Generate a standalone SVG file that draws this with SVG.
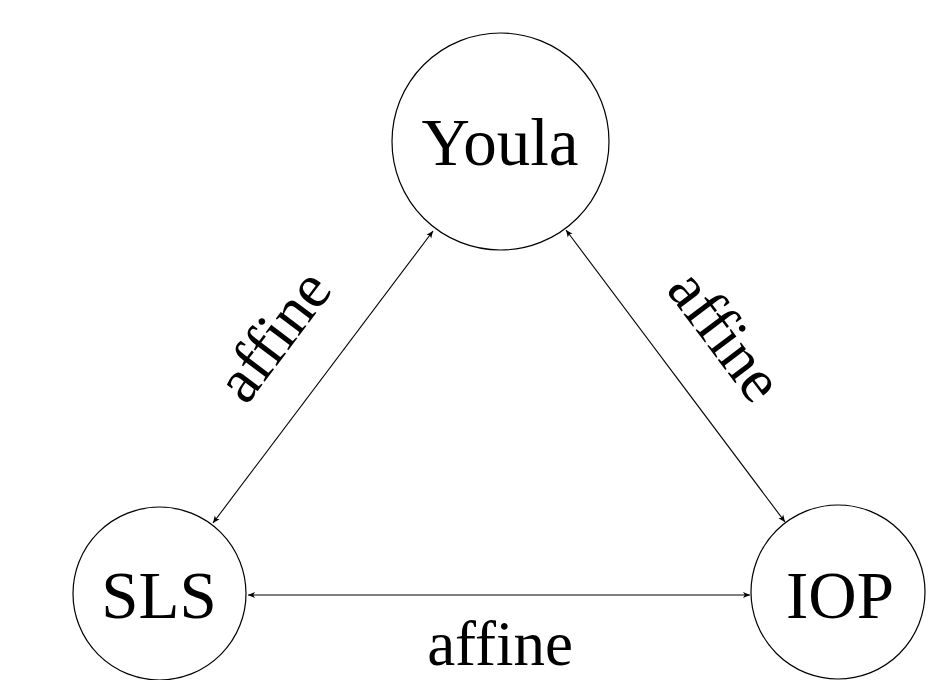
<svg xmlns="http://www.w3.org/2000/svg" width="931" height="680" viewBox="0 0 931 680">
<style>
  .node circle { fill: none; stroke: #000; stroke-width: 1.2; }
  .lbl { font-family: "Liberation Serif", "DejaVu Serif", serif; font-size: 67px; fill: #000; text-anchor: middle; }
  .edge { font-family: "Liberation Serif", "DejaVu Serif", serif; font-size: 63px; fill: #000; text-anchor: middle; }
  .conn line { stroke: #000; stroke-width: 1.1; fill: none; marker-start: url(#ah); marker-end: url(#ah); }
</style>
<defs>
  <marker id="ah" markerUnits="userSpaceOnUse" viewBox="-8 -4 9 8" refX="0" refY="0" markerWidth="9" markerHeight="8" orient="auto-start-reverse">
    <path d="M0,0 L-7,-3 L-5.2,0 L-7,3 Z" fill="#000"/>
  </marker>
</defs>
<rect width="931" height="680" fill="#fff"/>
<g id="youla" class="node">
  <circle cx="500.5" cy="141.5" r="108.5"/>
  <text class="lbl" x="500" y="165">Youla</text>
</g>
<g id="sls" class="node">
  <circle cx="159.5" cy="593.5" r="86.5"/>
  <text class="lbl" x="159" y="618">SLS</text>
</g>
<g id="iop" class="node">
  <circle cx="838" cy="592" r="87"/>
  <text class="lbl" x="840" y="618">IOP</text>
</g>
<g id="connectors" class="conn">
  <line x1="213" y1="523" x2="433" y2="231"/>
  <line x1="566" y1="230" x2="785" y2="522"/>
  <line x1="248" y1="595" x2="750" y2="595"/>
</g>
<g id="edge-labels">
  <text class="edge" transform="translate(290,348) rotate(-53)">affine</text>
  <text class="edge" transform="translate(709,348) rotate(53)">affine</text>
  <text class="edge" x="500" y="665">affine</text>
</g>
</svg>
